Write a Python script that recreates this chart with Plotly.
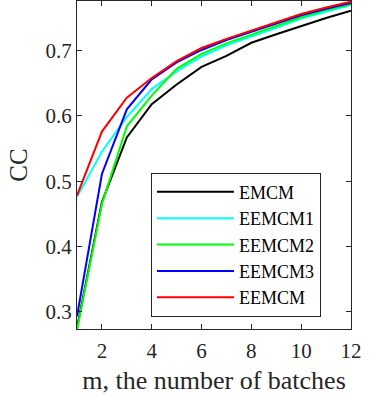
import plotly.graph_objects as go

# Data
batches = [1, 2, 3, 4, 5, 6, 7, 8, 9, 10, 11, 12]
emcm = [0.275, 0.468, 0.567, 0.618, 0.648, 0.675, 0.692, 0.712, 0.725, 0.738, 0.750, 0.761]
eemcm1 = [0.476, 0.545, 0.598, 0.641, 0.668, 0.691, 0.708, 0.721, 0.735, 0.749, 0.760, 0.770]
eemcm2 = [0.272, 0.465, 0.584, 0.631, 0.672, 0.695, 0.711, 0.724, 0.737, 0.751, 0.762, 0.771]
eemcm3 = [0.293, 0.511, 0.610, 0.656, 0.682, 0.701, 0.716, 0.729, 0.742, 0.754, 0.764, 0.773]
eemcm = [0.478, 0.576, 0.628, 0.658, 0.684, 0.704, 0.718, 0.731, 0.744, 0.756, 0.766, 0.775]

series_names = ["EMCM", "EEMCM1", "EEMCM2", "EEMCM3", "EEMCM"]
series_values = [emcm, eemcm1, eemcm2, eemcm3, eemcm]
series_colors = ["#000000", "#00ffff", "#00ff00", "#0000ff", "#ff0000"]

x_ticks = [2, 4, 6, 8, 10, 12]
y_ticks = [0.3, 0.4, 0.5, 0.6, 0.7]

font = "Times New Roman, serif"
axis_color = "#262626"

fig = go.Figure()
for name, vals, col in zip(series_names, series_values, series_colors):
    fig.add_trace(go.Scatter(x=batches, y=vals, name=name, mode="lines",
                             line=dict(color=col, width=2)))

axis_common = dict(
    showgrid=False, zeroline=False, showline=True, mirror="ticks",
    linecolor=axis_color, linewidth=1, ticks="inside", ticklen=5,
    tickcolor=axis_color, tickfont=dict(family=font, size=21, color="#262626"),
    automargin=False,
)
fig.update_xaxes(range=[1, 12], tickvals=x_ticks, ticklabelstandoff=3,
                 title=dict(text="m, the number of batches", font=dict(family=font, size=26, color="#262626"), standoff=8),
                 **axis_common)
fig.update_yaxes(range=[0.2735, 0.776], tickvals=y_ticks, tickformat=".1f",
                 title=dict(text="CC", font=dict(family=font, size=25, color="#262626"), standoff=10),
                 **axis_common)

fig.update_layout(
    width=382, height=398,
    margin=dict(l=77, r=31, t=1, b=69, autoexpand=False),
    paper_bgcolor="white", plot_bgcolor="white",
    font=dict(family=font, color="#262626"),
    showlegend=True,
    legend=dict(x=0.27, y=0.477, xanchor="left", yanchor="top",
                bgcolor="white", bordercolor=axis_color, borderwidth=1,
                font=dict(family=font, size=18, color="#000000"),
                itemwidth=77, tracegroupgap=0),
)

# drop the default 8px body margin so the figure sits flush in the window
fig.write_html("out.html", config={"displayModeBar": False},
               post_script="document.body.style.margin='0';")
